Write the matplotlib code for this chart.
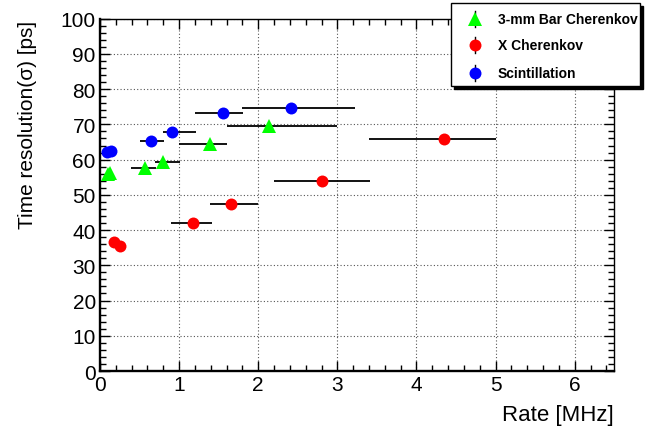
import matplotlib
matplotlib.use("Agg")
import matplotlib.pyplot as plt
from matplotlib.patches import Rectangle
from matplotlib.lines import Line2D
from matplotlib.ticker import MultipleLocator
import numpy as np

plt.rcParams['font.family'] = ['Liberation Sans', 'DejaVu Sans']

# ---- data ----
series_names = ["3-mm Bar Cherenkov", "X Cherenkov", "Scintillation"]

bar_rate = [0.097, 0.127, 0.57, 0.80, 1.39, 2.14]
bar_res = [55.9, 56.3, 57.5, 59.4, 64.4, 69.6]
bar_rate_lo = [0.097, 0.127, 0.39, 0.70, 1.00, 1.60]
bar_rate_hi = [0.097, 0.127, 0.71, 1.01, 1.61, 3.00]

x_rate = [0.177, 0.253, 1.17, 1.66, 2.81, 4.35]
x_res = [36.5, 35.4, 41.9, 47.5, 53.8, 65.8]
x_rate_lo = [0.177, 0.253, 0.90, 1.39, 2.20, 3.40]
x_rate_hi = [0.177, 0.253, 1.41, 2.00, 3.41, 5.00]

sc_rate = [0.092, 0.135, 0.64, 0.91, 1.55, 2.41]
sc_res = [62.2, 62.5, 65.2, 67.9, 73.3, 74.7]
sc_rate_lo = [0.092, 0.135, 0.50, 0.80, 1.20, 1.80]
sc_rate_hi = [0.092, 0.135, 0.81, 1.21, 1.81, 3.22]

res_err = 0.8

x_ticks = [0, 1, 2, 3, 4, 5, 6]
y_ticks = [0, 10, 20, 30, 40, 50, 60, 70, 80, 90, 100]

W, H = 665, 439
fig = plt.figure(figsize=(W / 100, H / 100), dpi=100)
ax = fig.add_axes([100 / W, 1 - 372 / H, 514.3 / W, 352.3 / H])

series = [
    (bar_rate, bar_res, bar_rate_lo, bar_rate_hi, '^', '#00ff00', 10.0),
    (x_rate, x_res, x_rate_lo, x_rate_hi, 'o', '#ff0000', 8.6),
    (sc_rate, sc_res, sc_rate_lo, sc_rate_hi, 'o', '#0000ff', 8.6),
]
for (xs, ys, lo, hi, mk, col, ms) in series:
    xs = np.array(xs); lo = np.array(lo); hi = np.array(hi)
    xerr = np.vstack([xs - lo, hi - xs])
    ax.errorbar(xs, ys, xerr=xerr, yerr=res_err, fmt='none', ecolor='black',
                elinewidth=1.3, capsize=0, zorder=3)
    ax.plot(xs, ys, linestyle='none', marker=mk, color=col, markersize=ms,
            markeredgewidth=0, zorder=4)

ax.set_xlim(0, 6.5)
ax.set_ylim(0, 100)
ax.set_xticks(x_ticks)
ax.set_yticks(y_ticks)
ax.xaxis.set_minor_locator(MultipleLocator(0.2))
ax.yaxis.set_minor_locator(MultipleLocator(2))
ax.tick_params(which='both', direction='in', top=True, right=True,
               labelsize=15, width=1.0, colors='black')
ax.tick_params(which='major', length=7, pad=3)
ax.tick_params(which='minor', length=4)
ax.spines['left'].set_linewidth(1.7)
ax.spines['bottom'].set_linewidth(1.7)
ax.spines['top'].set_linewidth(1.0)
ax.spines['right'].set_linewidth(1.0)
ax.grid(True, which='major', color='#555555', linestyle=(0, (1, 2)), linewidth=0.8)
ax.set_axisbelow(True)

fig.text(614 / W, 1 - 415 / H, "Rate [MHz]", ha='right', va='center', fontsize=16)
fig.text(28 / W, 1 - 125 / H, "Time resolution(σ) [ps]", ha='center', va='center',
         rotation=90, fontsize=15)

# ---- legend (ROOT style with shadow) ----
lx0, lx1, ly0, ly1 = 451, 640, 3.5, 87
sh = 3
fig.patches.append(Rectangle(((lx0 + sh) / W, 1 - (ly1 + sh) / H), (lx1 - lx0) / W,
                             (ly1 - ly0) / H, transform=fig.transFigure,
                             facecolor='black', edgecolor='black', zorder=10))
fig.patches.append(Rectangle((lx0 / W, 1 - ly1 / H), (lx1 - lx0) / W, (ly1 - ly0) / H,
                             transform=fig.transFigure, facecolor='white',
                             edgecolor='black', linewidth=1.0, zorder=11))
rows = [19.5, 46, 73.5]
for (name, (_, _, _, _, mk, col, ms), ry) in zip(series_names, series, rows):
    yy = 1 - ry / H
    fig.lines.append(Line2D([475 / W, 475 / W], [1 - (ry - 8) / H, 1 - (ry + 8) / H],
                            transform=fig.transFigure, color='black', linewidth=1.0,
                            zorder=12))
    fig.lines.append(Line2D([475 / W], [yy], transform=fig.transFigure, marker=mk,
                            color=col, markersize=ms, markeredgewidth=0, linestyle='none',
                            zorder=13))
    fig.text(498 / W, yy, name, ha='left', va='center', fontsize=10,
             fontweight='bold', zorder=14)

fig.savefig("out.png", dpi=100)
